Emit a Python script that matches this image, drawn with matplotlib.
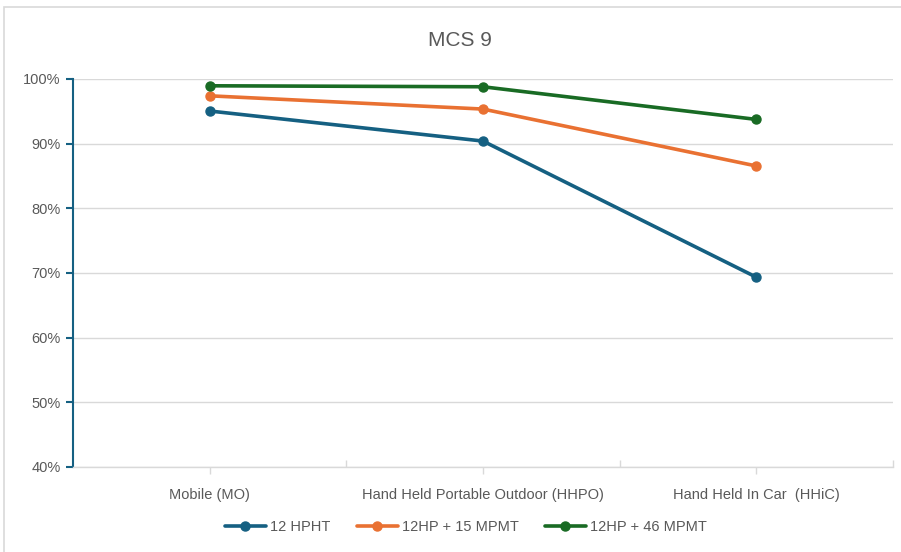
import matplotlib
matplotlib.use("Agg")
import matplotlib.pyplot as plt
from matplotlib.patches import Rectangle
from matplotlib.ticker import FixedLocator, PercentFormatter

categories = ["Mobile (MO)", "Hand Held Portable Outdoor (HHPO)", "Hand Held In Car  (HHiC)"]
series_names = ["12 HPHT", "12HP + 15 MPMT", "12HP + 46 MPMT"]
hpht = [95.05, 90.4, 69.35]
hp_15mpmt = [97.4, 95.35, 86.55]
hp_46mpmt = [98.95, 98.8, 93.75]
y_ticks = [40, 50, 60, 70, 80, 90, 100]

colors = ["#156082", "#E97132", "#196B24"]
text_color = "#595959"
grid_color = "#D9D9D9"

plt.rcParams["font.family"] = ["Liberation Sans", "DejaVu Sans"]

fig = plt.figure(figsize=(9.01, 5.52), dpi=100)
ax = fig.add_axes([73 / 901, 1 - 467 / 552, (893 - 73) / 901, (467 - 79) / 552])

# light chart-area frame
fig.patches.append(Rectangle((4 / 901, -0.05), 1.0, 1 - 7 / 552 + 0.05,
                             transform=fig.transFigure, fill=False,
                             edgecolor="#D9D9D9", linewidth=1.2))

x = list(range(len(categories)))
for vals, name, c in zip([hpht, hp_15mpmt, hp_46mpmt], series_names, colors):
    ax.plot(x, vals, color=c, linewidth=2.6, marker="o", markersize=6.5,
            markeredgecolor=c, markerfacecolor=c, label=name,
            solid_capstyle="round", zorder=3)

ax.set_xlim(-0.5, len(categories) - 0.5)
ax.set_ylim(40, 100)
ax.set_yticks(y_ticks)
ax.yaxis.set_major_formatter(PercentFormatter(decimals=0))
ax.set_xticks(x)
ax.set_xticklabels(categories)
ax.xaxis.set_minor_locator(FixedLocator([0.5, 1.5, 2.5]))

ax.grid(axis="y", color=grid_color, linewidth=1.0, zorder=0)
for s in ["top", "right"]:
    ax.spines[s].set_visible(False)
ax.spines["bottom"].set_color(grid_color)
ax.spines["bottom"].set_linewidth(1.0)
ax.spines["left"].set_color(colors[0])
ax.spines["left"].set_linewidth(1.5)

ax.tick_params(axis="y", colors=colors[0], length=5, width=1.5, labelcolor=text_color,
               labelsize=10.5, pad=4)
ax.tick_params(axis="x", which="major", color=grid_color, length=5, width=1.0,
               labelcolor=text_color, labelsize=10.5, pad=10)
ax.tick_params(axis="x", which="minor", color=grid_color, length=5, width=1.0,
               direction="in")

fig.text(460 / 901, 1 - 40 / 552, "MCS 9", ha="center", va="center",
         fontsize=15, color=text_color)

leg = fig.legend(loc="center", bbox_to_anchor=(466 / 901, 1 - 527 / 552), ncol=3,
                 frameon=False, fontsize=10.5, labelcolor=text_color,
                 handlelength=2.8, handletextpad=0.3, columnspacing=1.8)

fig.savefig("out.png", dpi=100)
